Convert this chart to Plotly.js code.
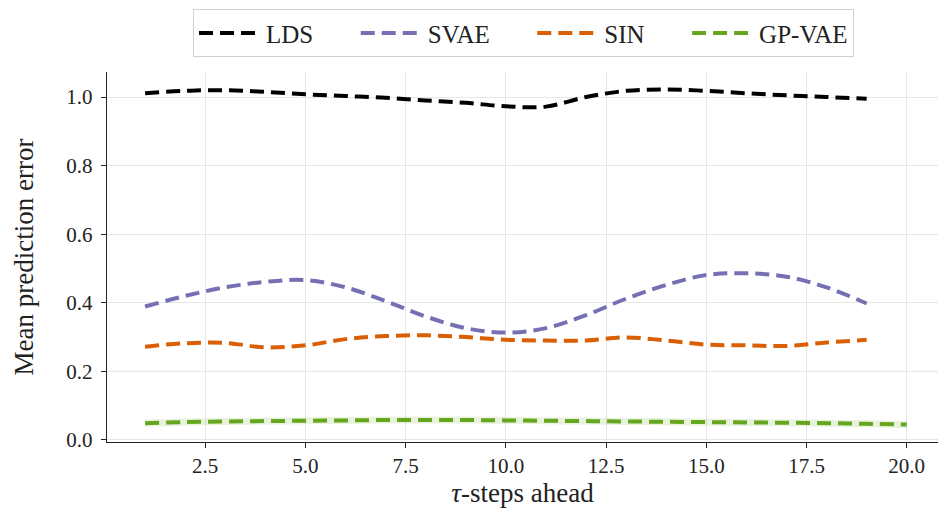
<!DOCTYPE html>
<html>
<head>
<meta charset="utf-8">
<script src="https://cdn.plot.ly/plotly-3.0.1.min.js"></script>
<style>html,body{margin:0;padding:0;background:#fff;}#chart{width:938px;height:510px;}</style>
</head>
<body>
<div id="chart"></div>
<script>
const stepsA = [1,2,3,4,5,6,7,8,9,10,11,12,13,14,15,16,17,18,19];
const stepsB = [1,2,3,4,5,6,7,8,9,10,11,12,13,14,15,16,17,18,19,20];
const lds  = [1.011,1.018,1.020,1.015,1.008,1.003,0.998,0.990,0.983,0.973,0.972,1.000,1.018,1.022,1.018,1.011,1.005,1.000,0.995];
const svae = [0.389,0.420,0.445,0.461,0.466,0.445,0.405,0.360,0.326,0.313,0.326,0.364,0.412,0.452,0.481,0.486,0.476,0.445,0.398];
const sin  = [0.272,0.282,0.283,0.270,0.276,0.294,0.303,0.305,0.300,0.292,0.290,0.290,0.299,0.290,0.278,0.276,0.274,0.284,0.292];
const gpvae= [0.049,0.052,0.054,0.055,0.056,0.057,0.058,0.058,0.058,0.057,0.056,0.055,0.054,0.053,0.052,0.051,0.050,0.049,0.047,0.045];
const names = ['LDS','SVAE','SIN','GP-VAE'];
const colors = ['#000000','#7570b3','#d95f02','#66a61e'];
const xTickVals = [2.5,5,7.5,10,12.5,15,17.5,20];
const xTickText = ['2.5','5.0','7.5','10.0','12.5','15.0','17.5','20.0'];
const yTickVals = [0,0.2,0.4,0.6,0.8,1.0];
const yTickText = ['0.0','0.2','0.4','0.6','0.8','1.0'];

const font = 'Liberation Serif, DejaVu Serif, serif';
const pad = '\u00A0\u00A0\u00A0\u00A0\u00A0\u00A0';
const mk = (x, y, i, label) => ({
  x: x, y: y, name: label, type: 'scatter', mode: 'lines',
  line: {color: colors[i], width: 4, dash: '14px,7px', shape: 'spline', smoothing: 1.0}
});
const traces = [
  mk(stepsA, lds, 0, names[0] + pad), mk(stepsA, svae, 1, names[1] + pad), mk(stepsA, sin, 2, names[2] + pad),
  {x: stepsB, y: gpvae, type:'scatter', mode:'lines', showlegend:false, hoverinfo:'skip',
   line:{color:'rgba(102,166,30,0.15)', width:7, shape:'spline'}},
  mk(stepsB, gpvae, 3, names[3])
];
const layout = {
  width: 938, height: 510,
  margin: {l: 107, r: 0, t: 72, b: 68},
  paper_bgcolor: '#fff', plot_bgcolor: '#fff',
  font: {family: font, size: 21, color: '#222'},
  xaxis: {
    range: [0.05, 20.78], tickvals: xTickVals, ticktext: xTickText,
    showgrid: true, gridcolor: '#e6e6e6', gridwidth: 1,
    showline: true, linecolor: '#222', linewidth: 1.2, mirror: false,
    ticks: 'outside', ticklen: 5, tickcolor: '#222', zeroline: false,
    tickfont: {family: font, size: 21, color: '#222'},
    title: {text: '<i>τ</i>-steps ahead', font: {family: font, size: 27, color: '#222'}, standoff: 3}
  },
  yaxis: {
    range: [-0.006, 1.073], tickvals: yTickVals, ticktext: yTickText,
    showgrid: true, gridcolor: '#e6e6e6', gridwidth: 1,
    showline: true, linecolor: '#222', linewidth: 1.2,
    ticks: 'outside', ticklen: 5, tickcolor: '#222', zeroline: false,
    ticklabelstandoff: 4,
    tickfont: {family: font, size: 21, color: '#222'},
    title: {text: 'Mean prediction error', font: {family: font, size: 27, color: '#222'}, standoff: 24}
  },
  legend: {
    orientation: 'h', x: (193-107)/831, xanchor: 'left', xref: 'paper',
    y: 0.982, yanchor: 'top', yref: 'container',
    bordercolor: '#d0d0d0', borderwidth: 1, bgcolor: '#fff',
    font: {family: font, size: 25, color: '#222'},
    itemwidth: 62
  },
  showlegend: true
};
Plotly.newPlot('chart', traces, layout, {displayModeBar: false, staticPlot: true});
</script>
</body>
</html>
